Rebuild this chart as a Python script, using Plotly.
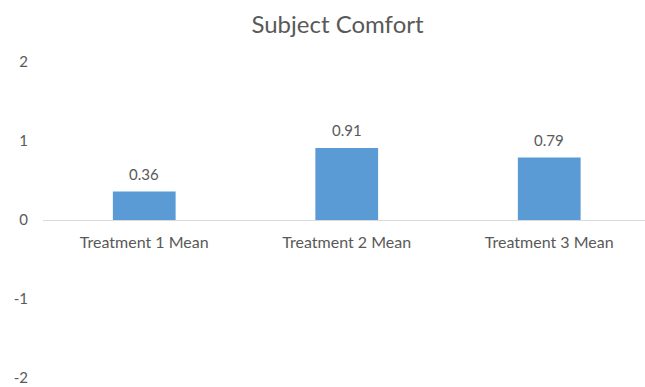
import plotly.graph_objects as go

categories = ["Treatment 1 Mean", "Treatment 2 Mean", "Treatment 3 Mean"]
values = [0.36, 0.91, 0.79]
y_ticks = [-2, -1, 0, 1, 2]
y_ticktext = ["-2", "-1", "0", "1", "2"]

FONT = "Lato"
GRAY = "#595959"
W, H = 645, 387

fig = go.Figure(go.Bar(
    x=categories, y=values,
    marker=dict(color="#5B9BD5", line=dict(width=0)),
    width=0.31,
    cliponaxis=False,
))

for c, v in zip(categories, values):
    fig.add_annotation(x=c, y=v, text=f"{v:.2f}", showarrow=False,
                       yanchor="middle", yshift=18,
                       font=dict(family=FONT, size=15, color=GRAY))

fig.update_layout(
    width=W, height=H,
    margin=dict(l=43, r=0, t=62, b=9),
    paper_bgcolor="white", plot_bgcolor="white",
    showlegend=False,
    title=dict(text="Subject Comfort", x=337.5 / W, xref="container", xanchor="center",
               y=1 - 25 / H, yref="container", yanchor="middle",
               font=dict(family=FONT, size=24, color=GRAY)),
    xaxis=dict(
        range=[-0.5, 2.473], anchor="free", position=0.5,
        showline=True, linecolor="#D9D9D9", linewidth=1,
        showgrid=False, ticks="", ticklabelstandoff=8,
        tickfont=dict(family=FONT, size=16, color=GRAY),
    ),
    yaxis=dict(
        range=[-2, 2], tickvals=y_ticks, ticktext=y_ticktext,
        showgrid=False, zeroline=False,
        showline=False, ticks="", ticklabelstandoff=14,
        tickfont=dict(family=FONT, size=15, color=GRAY),
    ),
)

fig.write_html("out.html")
